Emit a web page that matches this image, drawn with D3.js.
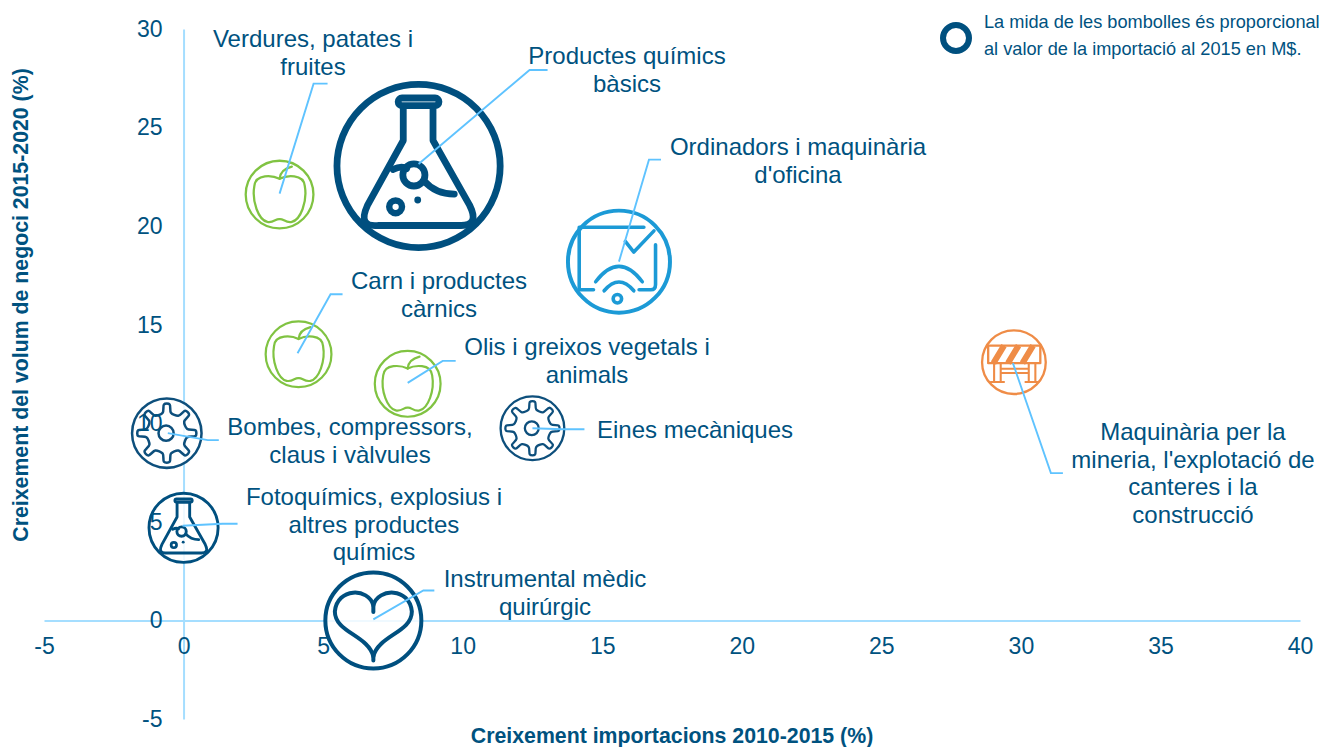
<!DOCTYPE html>
<html><head><meta charset="utf-8">
<script src="https://cdn.jsdelivr.net/npm/d3@7"></script>
<style>html,body{margin:0;background:#fff}svg{display:block;font-family:"Liberation Sans",Arial,sans-serif}</style>
</head><body><svg id="c" width="1325" height="747"></svg>
<script>
// ---- data ----
const categories = ["Verdures, patates i\nfruites","Productes químics\nbàsics","Ordinadors i maquinària\nd'oficina","Carn i productes\ncàrnics","Olis i greixos vegetals i\nanimals","Maquinària per la\nmineria, l'explotació de\ncanteres i la\nconstrucció","Bombes, compressors,\nclaus i vàlvules","Eines mecàniques","Fotoquímics, explosius i\naltres productes\nquímics","Instrumental mèdic\nquirúrgic"];
const importGrowth = [3.44, 8.42, 15.6, 4.12, 8.03, 29.75, -0.6, 12.5, 0, 6.8];
const turnoverGrowth = [21.6, 23.05, 18.2, 13.5, 12.0, 13.1, 9.5, 9.75, 4.7, 0];
const importValue = [1225, 7225, 2809, 1156, 1156, 1089, 1296, 1089, 1296, 2500];
const iconKind = ["apple","flask","screen","apple","apple","barrier","gear","gear","flask","heart"];
const xTicks = [-5,0,5,10,15,20,25,30,35,40];
const yTicks = [-5,0,5,10,15,20,25,30];
const xTitle = "Creixement importacions 2010-2015 (%)";
const yTitle = "Creixement del volum de negoci 2015-2020 (%)";
const legendLines = ["La mida de les bombolles és proporcional","al valor de la importació al 2015 en M$."];

// ---- layout and style ----
const DARK="#00507f", TEXT="#00527f", AXIS="#a5deff", LEAD="#5fc3ff";
const colorOf = {apple:"#80c342",flask:DARK,screen:"#1c9ad6",barrier:"#ef8c46",gear:"#0e4f7c",heart:DARK};
const sw = {apple:.065,flask:.08,screen:.075,barrier:.07,gear:.07,heart:.08};
// leader: [start offset, elbow offset, end offset] from bubble centre; label: centre x, first-line y, in pixels
const notes = [
 {lead:[[0,-1],[34,-111],[48,-111]],label:[313,39]},
 {lead:[[0,-2],[111,-96],[129,-96]],label:[627,56]},
 {lead:[[0,0],[30,-102],[42,-102]],label:[798,147]},
 {lead:[[-1,-1],[32,-60],[44,-60]],label:[439,281]},
 {lead:[[0,-1],[35,-23],[48,-23]],label:[587,347]},
 {lead:[[-1,1],[37,111],[49,111]],label:[1193,432]},
 {lead:[[1,0],[41,7],[52,7]],label:[350,427]},
 {lead:[[0,0],[30,1],[52,1]],label:[695,430]},
 {lead:[[-1,-2],[39,-4],[54,-4]],label:[374,497]},
 {lead:[[0,-1],[50,-30],[61,-30]],label:[545,579]}
];
const x = d3.scaleLinear().domain([-5,40]).range([44,1300]);
const y = d3.scaleLinear().domain([-5,30]).range([719,29]);
const r = d3.scaleSqrt().domain([0,7225]).range([0,85]);
const svg = d3.select("#c");

// axis lines
svg.append("g").attr("transform",`translate(0,${y(0)})`).call(d3.axisBottom(x).tickValues([]).tickSize(0));
svg.append("g").attr("transform",`translate(${x(0)},0)`).call(d3.axisLeft(y).tickValues([]).tickSize(0));
svg.selectAll(".domain").attr("stroke",AXIS).attr("stroke-width",2);

// icons, in a unit circle
const P = (g,d,c,w)=>g.append("path").attr("d",d).attr("fill","none").attr("stroke",c).attr("stroke-width",w).attr("stroke-linecap","round").attr("stroke-linejoin","round");
const C = (g,cx,cy,rr,c,w,fill="none")=>g.append("circle").attr("cx",cx).attr("cy",cy).attr("r",rr).attr("fill",fill).attr("stroke",c).attr("stroke-width",w);
const icons = {
 flask(g,c,w){
  g.append("rect").attr("x",-.24).attr("y",-.8).attr("width",.48).attr("height",.09).attr("rx",.045).attr("fill","none").attr("stroke",c).attr("stroke-width",w);
  P(g,"M-.18,-.68V-.3L-.6,.46Q-.72,.72,-.48,.7H.5Q.72,.7,.6,.46L.17,-.3V-.68",c,w);
  P(g,"M-.3,.04Q-.2,-.01,-.14,.03M.06,.17Q.2,.33,.42,.33",c,w);
  C(g,-.055,.105,.13,c,w);
  C(g,-.27,.48,.075,c,w*.95);
  C(g,-.01,.4,.04,c,0,c);
 },
 screen(g,c,w){
  P(g,"M.47,-.65H-.75V.53H-.48M.38,.53H.6Q.69,.53,.69,.43V-.32",c,w*.9);
  P(g,"M.12,-.38L.28,-.18L.66,-.58",c,w*.9);
  P(g,"M-.44,.38Q0,-.2,.44,.38",c,w*.9);
  P(g,"M-.28,.55Q0,.22,.28,.55",c,w*.9);
  C(g,-.03,.7,.08,c,w*.9);
 },
 apple(g,c,w){
  P(g,"M0,-.45C-.2,-.55,-.68,-.6,-.72,-.25C-.8,.2,-.6,.72,-.35,.78C-.18,.82,-.1,.68,0,.7C.1,.68,.18,.82,.35,.78C.6,.72,.8,.2,.72,-.25C.68,-.6,.2,-.55,0,-.45",c,w);
  P(g,"M0,-.45Q.02,-.72,.35,-.8",c,w);
 },
 barrier(g,c,w){
  P(g,"M-.78,-.5H.8V.03H-.78Z",c,w);
  P(g,"M-.62,.03L-.3,-.5M-.18,.03L.14,-.5M.26,.03L.58,-.5",c,w*2.6).attr("stroke-linecap","butt");
  P(g,"M-.6,.03V.6M-.4,.03V.6M.45,.03V.6M.65,.03V.6M-.4,.2H.45M-.4,.33H.45M-.7,.6H-.3M.35,.6H.75",c,w*.9);
 },
 gear(g,c,w){
  const n=8, pts=[];
  for(let i=0;i<n;i++){const a=i*2*Math.PI/n;
   pts.push([a-.2,.58],[a-.1,.8],[a+.1,.8],[a+.2,.58]);}
  const path=d3.lineRadial().angle(d=>d[0]).radius(d=>d[1]).curve(d3.curveCardinalClosed.tension(.1));
  P(g,path(pts),c,w);
  C(g,-.02,.0,.21,c,w);
 },
 heart(g,c,w){
  P(g,"M0,-.3C-.1,-.66,-.72,-.66,-.77,-.18C-.77,.24,-.1,.3,0,.72C.1,.3,.77,.24,.77,-.18C.72,-.66,.1,-.66,0,-.3",c,w);
  P(g,"M0,-.3V-.17M0,.65V.8",c,w);
 }
};
const filt = svg.append("defs").append("filter").attr("id","soft").attr("x","-5%").attr("y","-5%").attr("width","110%").attr("height","110%");
filt.append("feGaussianBlur").attr("stdDeviation",.5);
svg.append("g").selectAll("g").data(categories).join("g")
 .attr("filter","url(#soft)")
 .append("g")
 .attr("transform",(d,i)=>`translate(${x(importGrowth[i])},${y(turnoverGrowth[i])}) scale(${r(importValue[i])})`)
 .each(function(d,i){
  const g=d3.select(this), k=iconKind[i], c=colorOf[k], w=sw[k];
  C(g,0,0,1-w/2,c,w,"rgba(255,255,255,.82)");
  icons[k](g,c,w);
 });

// tick labels sit on top of the bubbles
const xAxis = svg.append("g").attr("transform",`translate(0,${y(0)})`).call(d3.axisBottom(x).tickValues(xTicks).tickSize(0).tickPadding(17).tickFormat(d=>String(d)));
const yAxis = svg.append("g").attr("transform",`translate(${x(0)},0)`).call(d3.axisLeft(y).tickValues(yTicks).tickSize(0).tickPadding(21).tickFormat(d=>String(d)));
[xAxis,yAxis].forEach(a=>{a.select(".domain").remove();a.selectAll("text").attr("font-size",23).attr("font-family","inherit").attr("fill",TEXT);});

// leaders
const line=d3.line();
svg.append("g").selectAll("path").data(notes).join("path")
 .attr("d",(n,i)=>line(n.lead.map(o=>[x(importGrowth[i])+o[0],y(turnoverGrowth[i])+o[1]])))
 .attr("fill","none").attr("stroke",LEAD).attr("stroke-width",1.9);

// labels
svg.append("g").selectAll("text").data(categories).join("text")
 .attr("text-anchor","middle").attr("font-size",24).attr("fill",TEXT)
 .each(function(d,i){
  d3.select(this).selectAll("tspan").data(d.split("\n")).join("tspan")
   .attr("x",notes[i].label[0]).attr("y",(t,j)=>notes[i].label[1]+8+j*27.7).text(t=>t);
 });

// axis titles
svg.append("text").attr("x",672).attr("y",743).attr("text-anchor","middle").attr("font-size",21.3).attr("font-weight","bold").attr("fill",TEXT).text(xTitle);
svg.append("text").attr("transform","translate(28,305) rotate(-90)").attr("text-anchor","middle").attr("font-size",21.3).attr("font-weight","bold").attr("fill",TEXT).text(yTitle);

// legend
svg.append("circle").attr("cx",956).attr("cy",38).attr("r",13).attr("fill","none").attr("stroke",DARK).attr("stroke-width",6);
svg.append("g").selectAll("text").data(legendLines).join("text").attr("x",984).attr("y",(d,i)=>28+i*27).attr("font-size",18.2).attr("fill",TEXT).text(d=>d);
</script></body></html>
